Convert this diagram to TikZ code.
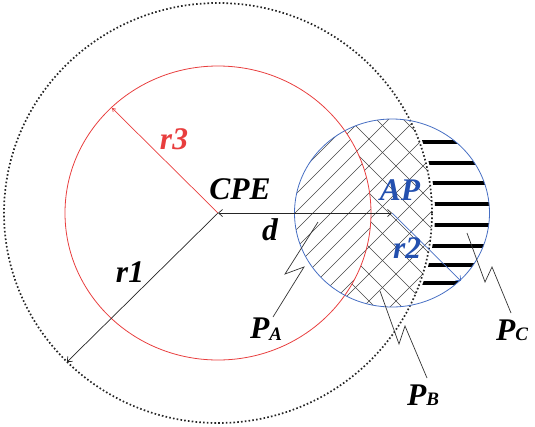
\documentclass[tikz,border=0pt]{standalone}
\usepackage{fontspec}
\setmainfont{Liberation Serif}
\usetikzlibrary{arrows.meta}
\definecolor{myred}{RGB}{232,62,62}
\definecolor{myblue}{RGB}{70,110,195}
\definecolor{txtblue}{RGB}{35,80,175}
\begin{document}
\begin{tikzpicture}[x=1pt,y=-1pt,
  lbl/.style={font=\fontsize{31.5}{33}\selectfont\bfseries\itshape, inner sep=0pt, anchor=base},
  hatch/.style={black!72, line width=0.6pt},
  bar/.style={black, line width=3.4pt},
  tip/.style={-{Straight Barb[length=4pt,width=7pt]}},
  leader/.style={black!80, line width=0.7pt}]
\useasboundingbox (0,0) rectangle (535,426);
\coordinate (C) at (218,213);
\coordinate (AP) at (392,213);
% P_A hatch
\begin{scope}
  \clip (AP) ellipse [x radius=97.5pt, y radius=94pt];
  \clip (C) ellipse [x radius=153pt, y radius=147pt];
  \foreach \c in {400,418,...,820} \draw[hatch] ({\c-110},110) -- ({\c-320},320);
\end{scope}
% P_B crosshatch
\begin{scope}[even odd rule]
  \clip (AP) ellipse [x radius=97.5pt, y radius=94pt];
  \clip (C) ellipse [x radius=214pt, y radius=210pt] (C) ellipse [x radius=153pt, y radius=147pt];
  \foreach \c in {400,427,...,840} \draw[hatch] ({\c-110},110) -- ({\c-320},320);
  \foreach \c in {-40,-13,...,420} \draw[hatch] ({\c+110},110) -- ({\c+320},320);
\end{scope}
% P_C bars
\begin{scope}[even odd rule]
  \clip (AP) ellipse [x radius=97.5pt, y radius=94pt];
  \clip (-10,-10) rectangle (545,436) (C) ellipse [x radius=217pt, y radius=213pt];
  \foreach \y in {142,163,183,204,225,246,265,283} \draw[bar] (380,\y) -- (500,\y);
\end{scope}
% circles
\draw[myred, line width=0.8pt] (C) ellipse [x radius=153pt, y radius=147pt];
\draw[black!85, line width=1.7pt, dash pattern=on 1.6pt off 2.2pt] (C) ellipse [x radius=214pt, y radius=210pt];
\draw[myblue, line width=0.8pt] (AP) ellipse [x radius=97.5pt, y radius=94pt];
% radii
\coordinate (R3) at (112,108);
\coordinate (R1) at (67,362);
\coordinate (R2) at (461,281);
\draw[myred, line width=0.7pt, -{Straight Barb[length=3pt,width=4pt]}] (C) -- (R3);
\draw[black!85, line width=0.7pt, tip] (C) -- (R1);
\draw[myblue, line width=0.7pt, tip] (AP) -- (R2);
\draw[black!85, line width=0.7pt, {Straight Barb[length=4pt,width=7pt]}-{Straight Barb[length=4pt,width=7pt]}] (C) -- (AP);
% labels
\node[lbl] (cpe) at (240,199) {CPE};
\node[lbl] (dl) at (270,240) {d};
\node[lbl] (r1l) at (130,282) {r1};
\node[lbl, text=myred] (r3l) at (174,149) {r3};
\node[lbl, text=txtblue] (apl) at (400,200) {AP};
\node[lbl, text=txtblue] (r2l) at (407,258) {r2};
\node[lbl] (pa) at (266,338) {P\raisebox{-2pt}{\fontsize{19}{19}\selectfont A}};
\node[lbl] (pb) at (423,405) {P{\fontsize{19}{19}\selectfont B}};
\node[lbl] (pc) at (512,340) {P{\fontsize{19}{19}\selectfont C}};
% leaders
\coordinate (pa0) at (273,317);
\coordinate (pa1) at (304,267);
\coordinate (pa2) at (285,274);
\coordinate (pa3) at (318,222);
\coordinate (pb0) at (427,378);
\coordinate (pb1) at (405,326);
\coordinate (pb2) at (399,344);
\coordinate (pb3) at (380,291);
\coordinate (pc0) at (511,313);
\coordinate (pc1) at (492,267);
\coordinate (pc2) at (485,282);
\coordinate (pc3) at (467,233);
\draw[leader] (pa0) -- (pa1) -- (pa2) -- (pa3);
\draw[leader] (pb0) -- (pb1) -- (pb2) -- (pb3);
\draw[leader] (pc0) -- (pc1) -- (pc2) -- (pc3);
\end{tikzpicture}
\end{document}
